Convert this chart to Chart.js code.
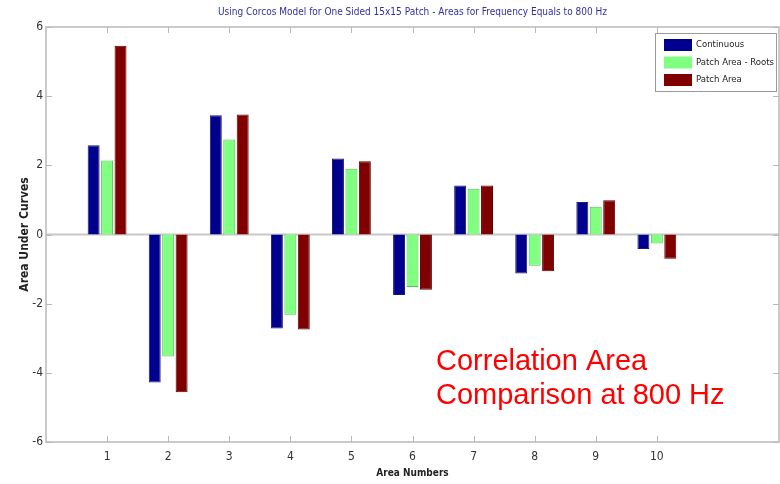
<!DOCTYPE html>
<html>
<head>
<meta charset="utf-8">
<script src="https://cdn.jsdelivr.net/npm/chart.js@4.4.1/dist/chart.umd.min.js"></script>
<style>
html, body { margin: 0; padding: 0; background: #fff; }
#wrap { width: 780px; height: 484px; }
</style>
</head>
<body>
<div id="wrap"><canvas id="areaChart" width="780" height="484"></canvas></div>
<script>
// values
var areaNumbers = [1, 2, 3, 4, 5, 6, 7, 8, 9, 10];
var continuous = [2.58, -4.28, 3.45, -2.72, 2.2, -1.75, 1.42, -1.13, 0.94, -0.42];
var patchAreaRoots = [2.14, -3.53, 2.75, -2.32, 1.9, -1.52, 1.32, -0.9, 0.8, -0.26];
var patchArea = [5.46, -4.56, 3.47, -2.75, 2.12, -1.6, 1.42, -1.06, 0.99, -0.7];
var yTicks = [-6, -4, -2, 0, 2, 4, 6];
var seriesNames = ['Continuous', 'Patch Area - Roots', 'Patch Area'];
var chartTitle = 'Using Corcos Model for One Sided 15x15 Patch - Areas for Frequency Equals to 800 Hz';
var noteLines = ['Correlation Area', 'Comparison at 800 Hz'];

var narrow = "'Liberation Sans Narrow', 'DejaVu Sans Condensed', 'Liberation Sans', Arial, sans-serif";
var axisGray = '#b9b9b9';

function points(values) {
    return areaNumbers.map(function (n, i) { return { x: n, y: values[i] }; });
}

// frame, inward ticks, zero line, title and legend like the matlab axes
var framePlugin = {
    id: 'frame',
    beforeDatasetsDraw: function (chart) {
        var ctx = chart.ctx, a = chart.chartArea, ys = chart.scales.y;
        var y0 = ys.getPixelForValue(0);
        ctx.save();
        ctx.strokeStyle = '#c8c8c8';
        ctx.lineWidth = 2;
        ctx.beginPath();
        ctx.moveTo(a.left, y0);
        ctx.lineTo(a.right, y0);
        ctx.stroke();
        ctx.restore();
    },
    afterDatasetsDraw: function (chart) {
        var ctx = chart.ctx, a = chart.chartArea;
        var xs = chart.scales.x, ys = chart.scales.y;
        ctx.save();
        ctx.strokeStyle = axisGray;
        ctx.lineWidth = 1.5;
        ctx.strokeRect(a.left, a.top, a.right - a.left, a.bottom - a.top);
        ctx.lineWidth = 1;
        ctx.beginPath();
        areaNumbers.forEach(function (n) {
            var px = Math.round(xs.getPixelForValue(n)) + 0.5;
            ctx.moveTo(px, a.bottom); ctx.lineTo(px, a.bottom - 6);
            ctx.moveTo(px, a.top); ctx.lineTo(px, a.top + 6);
        });
        yTicks.forEach(function (v) {
            var py = Math.round(ys.getPixelForValue(v)) + 0.5;
            ctx.moveTo(a.left, py); ctx.lineTo(a.left + 6, py);
            ctx.moveTo(a.right, py); ctx.lineTo(a.right - 6, py);
        });
        ctx.stroke();
        ctx.restore();
    },
    afterDraw: function (chart) {
        var ctx = chart.ctx, a = chart.chartArea;
        ctx.save();
        // title centred over the axes
        ctx.fillStyle = '#3030a4';
        ctx.font = '10px ' + narrow;
        ctx.textAlign = 'center';
        ctx.textBaseline = 'middle';
        ctx.fillText(chartTitle, (a.left + a.right) / 2, 12);
        // legend box inside the axes
        var bw = 121, bh = 58;
        var bx = a.right - bw - 3, by = a.top + 6;
        ctx.fillStyle = '#fff';
        ctx.fillRect(bx, by, bw, bh);
        ctx.strokeStyle = '#9a9a9a';
        ctx.lineWidth = 1;
        ctx.strokeRect(bx + 0.5, by + 0.5, bw, bh);
        ctx.font = '9.5px ' + narrow;
        ctx.textAlign = 'left';
        chart.data.datasets.forEach(function (ds, i) {
            var cy = by + 12 + i * 17.5;
            ctx.fillStyle = ds.backgroundColor;
            ctx.fillRect(bx + 9, cy - 6, 28, 12);
            ctx.fillStyle = '#222';
            ctx.fillText(ds.label, bx + 41, cy);
        });
        // red note
        ctx.fillStyle = '#ff0000';
        ctx.font = '29px "Liberation Sans", Arial, sans-serif';
        ctx.textBaseline = 'alphabetic';
        ctx.fillText(noteLines[0], 436, 370);
        ctx.fillText(noteLines[1], 436, 404);
        ctx.restore();
    }
};

var ctx = document.getElementById('areaChart').getContext('2d');
var chart = new Chart(ctx, {
    type: 'bar',
    data: {
        datasets: [{
            label: seriesNames[0],
            data: points(continuous),
            backgroundColor: '#00008f',
            borderColor: '#1c1c70',
            borderWidth: 1
        }, {
            label: seriesNames[1],
            data: points(patchAreaRoots),
            backgroundColor: '#80ff80',
            borderColor: '#5cbf5c',
            borderWidth: 1
        }, {
            label: seriesNames[2],
            data: points(patchArea),
            backgroundColor: '#800000',
            borderColor: '#5a0000',
            borderWidth: 1
        }]
    },
    options: {
        responsive: false,
        animation: false,
        devicePixelRatio: 1,
        categoryPercentage: 0.66,
        barPercentage: 0.89,
        layout: { padding: { left: 18, right: 1, top: 27, bottom: 0 } },
        plugins: {
            legend: { display: false },
            tooltip: { enabled: false },
            title: { display: false }
        },
        scales: {
            x: {
                type: 'linear',
                min: 0,
                max: 12,
                offset: false,
                grid: { display: false, drawTicks: false },
                border: { display: false },
                afterFit: function (s) {
                    s.height = 42;
                    s.paddingLeft = 0;
                    s.paddingRight = 0;
                },
                ticks: {
                    stepSize: 1,
                    autoSkip: false,
                    maxRotation: 0,
                    padding: 8,
                    color: '#333',
                    font: { family: narrow, size: 12 },
                    callback: function (v) { return areaNumbers.indexOf(v) >= 0 ? String(v) : ''; }
                },
                title: {
                    display: true,
                    text: 'Area Numbers',
                    color: '#222',
                    font: { family: narrow, size: 10, weight: 'bold' },
                    padding: { top: 0, bottom: 5 }
                }
            },
            y: {
                min: -6,
                max: 6,
                grid: { display: false, drawTicks: false },
                border: { display: false },
                afterFit: function (s) {
                    s.width = 28;
                    s.paddingTop = 0;
                    s.paddingBottom = 0;
                },
                ticks: {
                    stepSize: 2,
                    padding: 3,
                    color: '#333',
                    font: { family: narrow, size: 12 }
                },
                title: {
                    display: true,
                    text: 'Area Under Curves',
                    color: '#222',
                    font: { family: narrow, size: 12, weight: 'bold' },
                    padding: { top: 0, bottom: 0 }
                }
            }
        }
    },
    plugins: [framePlugin]
});
</script>
</body>
</html>
